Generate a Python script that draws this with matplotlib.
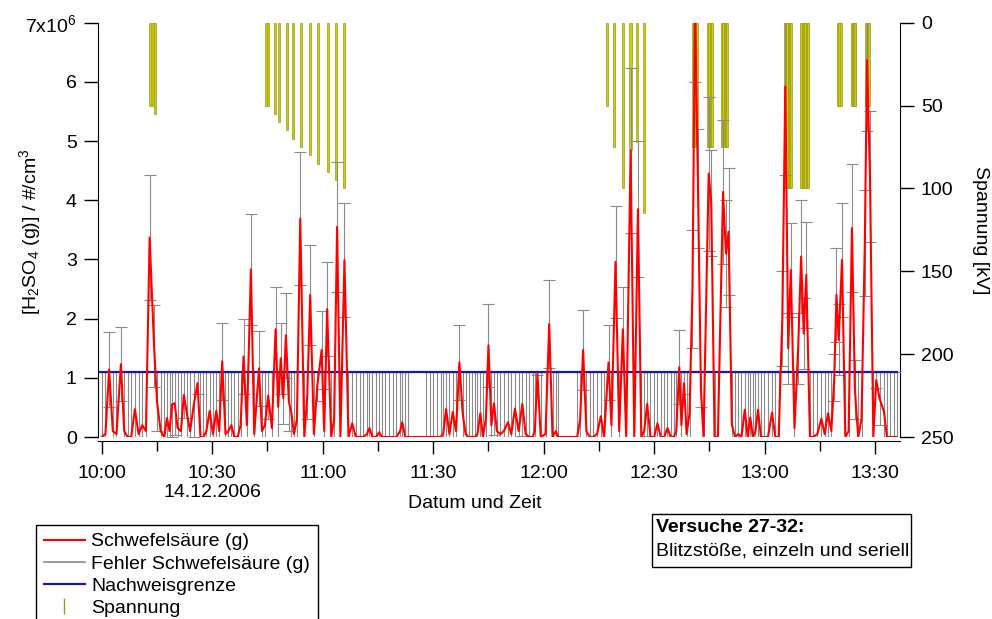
import matplotlib
matplotlib.use("Agg")
import matplotlib.pyplot as plt
from matplotlib.lines import Line2D
from matplotlib.patches import Rectangle

plt.rcParams["font.family"] = ["Liberation Sans", "DejaVu Sans"]
plt.rcParams["mathtext.fontset"] = "custom"
plt.rcParams["mathtext.rm"] = "Liberation Sans"
plt.rcParams["mathtext.it"] = "Liberation Sans:italic"
plt.rcParams["mathtext.bf"] = "Liberation Sans:bold"
plt.rcParams["font.size"] = 14

# ----------------------------
# Daten (Zeit in Minuten nach 10:00, H2SO4 in 10^6 #/cm3)
# ----------------------------
zeit_min = [
    0, 1, 2, 3, 4, 5.2, 6.1, 7, 8, 9, 10, 11, 12, 13, 14.2, 15, 16, 17, 17.7, 18.4,
    19.1, 19.8, 20.6, 21.5, 22.3, 23.1, 24, 25, 26, 26.8, 27.6, 28.4, 29.3, 30.2, 31.1, 31.9,
    32.7, 33.6, 34.4, 35.2, 36, 36.9, 37.7, 38.5, 39.4, 40.5, 41.4, 42.7, 43.5, 44.3, 45.2,
    46.2, 47.2, 47.9, 48.6, 49.3, 50, 50.8, 51.5, 52.2, 53.0, 53.9, 55, 55.8, 56.6, 57.6,
    58.5, 59.7, 60.4, 61.2, 62.3, 63.1, 63.9, 64.8, 65.9, 67, 68, 69, 70, 71, 72, 72.7,
    73.5, 74.5, 75.3, 76.1, 77, 78, 79, 80, 81, 81.6, 82.4, 83.1,
    88, 89, 90, 91, 92, 92.7, 93.5, 94.4, 95.3, 96.2, 97.1, 98, 98.8, 99.6, 100.5, 101.3,
    102, 102.8, 103.5, 104.3, 105, 105.8, 106.5, 107.3, 108.2, 109.2, 110.3, 111.2, 112.2,
    113.2, 114.2, 115.1, 116, 117, 117.6, 118.3, 119.2, 120.5, 121.5, 122.4, 123.3, 123.9,
    129.1, 129.9, 130.7, 131.6, 132.5, 133.4, 134.5, 135.5, 136.4, 137.6, 138.4, 139.5,
    140.5, 141.5, 142.4, 143.6, 144.6, 145.6, 146.5, 147.3, 148.1, 149, 150, 150.9, 151.8,
    152.7, 153.6, 154.5, 155.3, 156, 156.8, 157.4, 158.1, 158.8, 159.6, 160.4, 161.1,
    161.9, 162.7, 163.4, 164.8, 165.5, 166.4, 167.3, 168.7, 169.5, 170.2, 171.1, 172,
    172.8, 173.7, 174.6, 175.4, 176.1, 176.8, 177.5, 178.2, 179, 179.9, 180.9, 182, 182.9,
    183.8, 184.8, 185.6, 186.4, 187.1, 188.1, 189.1, 189.9, 190.6, 191.3, 192.3, 193.2,
    194.3, 195.4, 196.3, 197.2, 198.1, 198.9, 199.5, 200.1, 201, 201.9, 202.8, 203.7,
    204.5, 205.4, 206.3, 207.2, 207.8, 208.6, 209.5, 210.3, 211.2, 212.4, 213.2, 214.1,
    215, 215.9,
]

schwefelsaeure = [
    0, 0.05, 1.14, 0.1, 0.05, 1.23, 0.1, 0, 0, 0.47, 0.05, 0.2, 0.1, 3.37, 1.54, 0.6, 0.1, 0, 0.32, 0.1,
    0.55, 0.57, 0.15, 0.1, 0.71, 0.4, 0.1, 0.55, 0.91, 0, 0, 0.1, 0.44, 0.05, 0.44, 0.1,
    1.28, 0.05, 0.1, 0.2, 0, 0, 0.2, 1.36, 0.2, 2.83, 0.05, 1.16, 0.1, 0.2, 0.7,
    0.15, 1.82, 0.51, 1.33, 0.66, 1.72, 0.6, 0.4, 0.05, 0.3, 3.69, 0, 0.7, 2.4, 0.05,
    0.85, 1.47, 0.1, 2.16, 0, 0.3, 3.55, 0, 2.99, 0, 0.23, 0, 0, 0, 0.05, 0.15,
    0, 0, 0.08, 0, 0, 0, 0, 0, 0.1, 0.25, 0, 0,
    0, 0, 0, 0, 0, 0.05, 0.47, 0.05, 0.42, 0.1, 1.26, 0.4, 0.05, 0, 0, 0,
    0.05, 0.4, 0, 0.3, 1.55, 0.2, 0.57, 0.1, 0.05, 0.1, 0.25, 0.05, 0.48,
    0.1, 0.56, 0.05, 0, 0, 0.1, 1.07, 0, 0.05, 1.91, 0, 0.1, 0,
    0, 0.3, 1.47, 0.1, 0, 0, 0.05, 0.35, 0, 1.26, 0.2, 2.96,
    0.1, 1.82, 0, 4.84, 0, 3.85, 0, 0.1, 0.56, 0, 0, 0.23, 0,
    0, 0.15, 0, 0, 0.1, 1.18, 0.2, 0.91, 0.05, 0.4, 2.5, 7.3,
    4.2, 0.8, 0, 4.45, 3.95, 0, 0, 4.14, 3.1, 3.47, 0.2, 0,
    0.05, 0, 0.46, 0, 0.33, 0, 0.1, 0.46, 0, 0, 0, 0.41, 0,
    0, 2.0, 5.92, 1.5, 2.82, 0.15, 1.5, 3.05, 1.75, 2.74, 0, 0,
    0.05, 0.31, 0.05, 0.4, 0.1, 1.0, 2.4, 1.64, 2.99, 0, 0.1, 3.53,
    0.8, 0, 0.3, 3.28, 6.37, 4.4, 0, 0.96, 0.65, 0.43, 0, 0,
    0, 0,
]

fehler = [
    1.1, 1.05, 0.63, 1.0, 1.05, 0.63, 1.0, 1.1, 1.1, 0.63, 1.05, 0.9, 1.0, 1.05, 0.69, 0.5, 1.0, 1.1, 0.78, 1.0,
    0.55, 0.53, 0.95, 1.0, 0.39, 0.7, 1.0, 0.55, 0.19, 1.1, 1.1, 1.0, 0.66, 1.05, 0.66, 1.0,
    0.65, 1.05, 1.0, 0.9, 1.1, 1.1, 0.9, 0.64, 0.9, 0.93, 1.05, 0.63, 1.0, 0.9, 0.4,
    0.95, 0.72, 0.59, 0.6, 0.44, 0.72, 0.5, 0.7, 1.05, 0.8, 1.12, 1.1, 0.4, 0.84, 1.05,
    0.25, 0.66, 1.0, 0.79, 1.1, 0.8, 1.1, 1.1, 0.97, 1.1, 0.87, 1.1, 1.1, 1.1, 1.05, 0.95,
    1.1, 1.1, 1.02, 1.1, 1.1, 1.1, 1.1, 1.1, 1.0, 0.85, 1.1, 1.1,
    1.1, 1.1, 1.1, 1.1, 1.1, 1.05, 0.63, 1.05, 0.68, 1.0, 0.64, 0.7, 1.05, 1.1, 1.1, 1.1,
    1.05, 0.7, 1.1, 0.8, 0.7, 0.9, 0.53, 1.0, 1.05, 1.0, 0.85, 1.05, 0.62,
    1.0, 0.54, 1.05, 1.1, 1.1, 1.0, 0.03, 1.1, 1.05, 0.74, 1.1, 1.0, 1.1,
    1.1, 0.8, 0.68, 1.0, 1.1, 1.1, 1.05, 0.75, 1.1, 0.63, 0.9, 0.95,
    1.0, 0.72, 1.1, 1.39, 1.1, 1.15, 1.1, 1.0, 0.54, 1.1, 1.1, 0.87, 1.1,
    1.1, 0.95, 1.1, 1.1, 1.0, 0.62, 0.9, 0.19, 1.05, 0.7, 1.0, 1.3,
    1.0, 0.3, 1.1, 1.3, 0.9, 1.1, 1.1, 1.22, 0.9, 1.07, 0.9, 1.1,
    1.05, 1.1, 0.64, 1.1, 0.77, 1.1, 1.0, 0.64, 1.1, 1.1, 1.1, 0.69, 1.1,
    1.1, 0.8, 1.5, 0.6, 0.8, 0.95, 0.6, 0.95, 0.6, 0.9, 1.1, 1.1,
    1.05, 0.79, 1.05, 0.7, 1.0, 0.4, 0.8, 0.6, 0.97, 1.1, 1.0, 1.08,
    0.5, 1.1, 0.8, 0.9, 1.2, 1.1, 1.1, 0.14, 0.45, 0.67, 1.1, 1.1,
    1.1, 1.1,
]

nachweisgrenze = 1.1  # 10^6 #/cm3

# Spannung (Blitzstoesse), Zeit in Minuten nach 10:00
spannung_zeit = [
    13.0, 13.85, 14.55,
    44.5, 45.05, 47.05, 48.2, 50.2, 52.0, 54.1, 56.55, 58.8, 61.4, 63.6, 65.8,
    137.1, 139.1, 141.6, 143.6, 145.4, 147.3,
    160.6, 160.95, 161.3, 161.6,
    164.7, 165.05, 165.4, 165.7,
    168.5, 168.85, 169.2, 169.5, 169.7,
    185.5, 185.85, 186.2, 186.55, 186.9, 187.1,
    190.0, 190.35, 190.7, 191.05, 191.4, 191.7,
    200.0, 200.35, 200.7,
    203.7, 204.05, 204.4, 204.6,
    207.6, 207.95, 208.3,
]
spannung_kv = [
    50, 50, 55,
    50, 50, 55, 60, 65, 70, 75, 80, 85, 90, 95, 100,
    50, 75, 100, 77, 72, 115,
    75, 75, 75, 75,
    75, 75, 75, 75,
    75, 75, 75, 75, 75,
    100, 100, 100, 100, 100, 100,
    100, 100, 100, 100, 100, 100,
    50, 50, 50,
    50, 50, 50, 50,
    50, 50, 50,
]

x_major = [0, 30, 60, 90, 120, 150, 180, 210]
x_minor = [15, 45, 75, 105, 135, 165, 195]
x_labels = ["10:00", "10:30\n14.12.2006", "11:00", "11:30", "12:00", "12:30", "13:00", "13:30"]
y_ticks = [0, 1, 2, 3, 4, 5, 6, 7]
y_labels = ["0", "1", "2", "3", "4", "5", "6", "7x10$^{6}$"]
kv_ticks = [0, 50, 100, 150, 200, 250]

# ----------------------------
# Plot
# ----------------------------
W, H = 992, 619
fig = plt.figure(figsize=(W / 100, H / 100), dpi=100)
ax = fig.add_axes([97.7 / W, 1 - 437 / H, (900 - 97.7) / W, (437 - 22.7) / H])
ax2 = ax.twinx()
ax.set_zorder(ax2.get_zorder() + 1)
ax.patch.set_visible(False)

# Spannung, haengt vom oberen Rand herunter
ax2.bar(spannung_zeit, spannung_kv, width=0.6, color="#cccc00",
        edgecolor="#9a9a22", linewidth=0.5)
ax2.set_ylim(250, 0)

ax.errorbar(zeit_min, schwefelsaeure, yerr=fehler, fmt="none", ecolor="#8a8a8a",
            elinewidth=0.8, capsize=4.5, capthick=0.8)
ax.plot([zeit_min[0] - 0.5, zeit_min[-1]], [nachweisgrenze, nachweisgrenze],
        color="#1a1aa0", lw=1.6)
ax.plot(zeit_min, schwefelsaeure, color="red", lw=1.5)

ax.set_xlim(-1.1, 216.75)
ax.set_ylim(0, 7)

for a in (ax, ax2):
    a.spines["top"].set_visible(False)
ax.spines["right"].set_visible(False)
ax2.spines["left"].set_visible(False)
ax2.spines["bottom"].set_visible(False)
ax.spines["bottom"].set_position(("outward", 3))

ax.set_xticks(x_major)
ax.set_xticklabels(x_labels)
ax.set_xticks(x_minor, minor=True)
ax.tick_params(axis="x", which="major", length=9, width=1, pad=8)
ax.tick_params(axis="x", which="minor", length=7, width=1)
ax.set_yticks(y_ticks)
ax.set_yticklabels(y_labels)
ax.tick_params(axis="y", length=10, width=1, pad=5)
ax2.set_yticks(kv_ticks)
ax2.tick_params(axis="y", length=10, width=1, pad=5)

fig.text(30 / W, 1 - 232 / H, "[H$_2$SO$_4$ (g)] / #/cm$^3$", rotation=90,
         ha="center", va="center")
fig.text(980 / W, 1 - 230 / H, "Spannung [kV]", rotation=270, ha="center", va="center")
fig.text(475 / W, 1 - 503 / H, "Datum und Zeit", ha="center", va="center")

handles = [
    Line2D([], [], color="red", lw=1.5),
    Line2D([], [], color="#8a8a8a", lw=1.2),
    Line2D([], [], color="#1a1aa0", lw=1.6),
    Line2D([], [], color="#9a9a20", marker="|", ls="none", markersize=12),
]
labels = ["Schwefelsäure (g)", "Fehler Schwefelsäure (g)", "Nachweisgrenze", "Spannung"]
fig.legend(handles, labels, loc="upper left", bbox_to_anchor=(36 / W, 1 - 525 / H),
           frameon=True, fancybox=False, edgecolor="black", framealpha=1,
           borderaxespad=0, borderpad=0.4, handlelength=2.1, handletextpad=0.35,
           labelspacing=0.24)

fig.patches.append(Rectangle((652 / W, 1 - 567 / H), 259 / W, 53 / H,
                             transform=fig.transFigure, fill=False,
                             edgecolor="black", lw=1))
fig.text(656 / W, 1 - 528 / H, "Versuche 27-32:", fontweight="bold", va="center")
fig.text(656 / W, 1 - 551 / H, "Blitzstöße, einzeln und seriell", va="center")

fig.savefig("out.png", dpi=100)
